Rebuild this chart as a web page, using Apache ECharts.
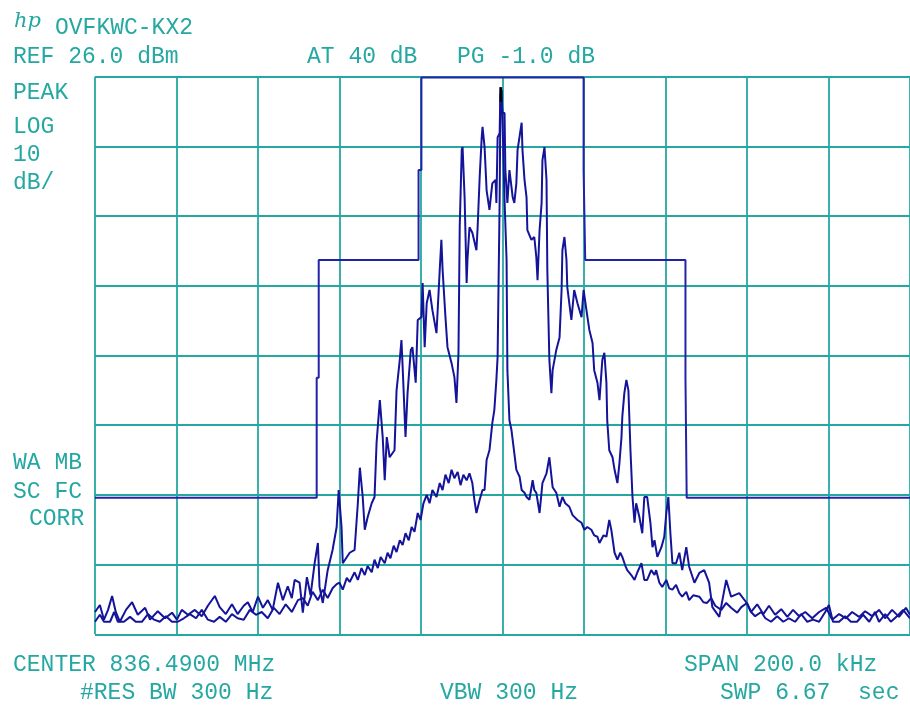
<!DOCTYPE html>
<html>
<head>
<meta charset="utf-8">
<script src="https://cdn.jsdelivr.net/npm/echarts@6/dist/echarts.min.js"></script>
<style>
html,body{margin:0;padding:0;background:#fff;}
#c{width:910px;height:709px;}
</style>
</head>
<body>
<div id="c"></div>
<script>
// Frequency offset from center (kHz) and level relative to REF (dB, 0 = 26.0 dBm, 10 dB/div)
var maskFreq  = [-100, -45.6, -45.6, -45.1, -45.1, -20.6, -20.6, -19.9, -19.9, 19.9, 19.9, 20.3, 20.3, 44.9, 44.9, 45.2, 45.2, 100];
var maskLevel = [-60.4, -60.4, -43.2, -43.2, -26.3, -26.3, -13.4, -13.4, -0.1, -0.1, -13.4, -13.4, -26.3, -26.3, -43.2, -43.2, -60.4, -60.4];

var traceA = [
[-100,-76.8],[-98.8,-75.8],[-97.8,-77.9],[-96.8,-76.5],[-95.8,-74.5],[-94.9,-76.8],[-93.9,-78.2],[-92.4,-76.5],
[-90.9,-75.4],[-89.5,-77.2],[-87.7,-76.2],[-86.5,-77.9],[-84.6,-76.7],[-82.8,-77.7],[-81.1,-76.9],[-79.9,-77.9],
[-78.7,-76.5],[-77.2,-77.2],[-75.5,-76.5],[-73.8,-77.4],[-72.3,-75.9],[-70.6,-74.5],[-69.4,-76.1],[-67.9,-77.1],
[-66.4,-75.7],[-65.0,-77.1],[-63.5,-75.9],[-62.5,-75.4],[-61.3,-76.8],[-60.0,-74.6],[-58.8,-76.2],[-57.6,-75.1],
[-56.4,-76.5],[-55.1,-72.6],[-53.9,-75.1],[-52.7,-73.1],[-51.7,-74.8],[-51.0,-72.2],[-49.8,-72.6],[-49.0,-76.9],
[-48.0,-71.8],[-47.1,-74.4],[-46.1,-69.8],[-45.3,-66.9],[-44.9,-73.2],[-44.1,-75.5],[-42.9,-70.8],[-41.7,-67.9],
[-40.7,-64.6],[-40.2,-59.3],[-39.5,-64.6],[-39.2,-69.8],[-37.5,-68.3],[-36.3,-67.9],[-35.5,-61.2],[-35.0,-56.1],
[-34.3,-60.3],[-33.8,-65.0],[-33.1,-63.2],[-32.1,-61.2],[-31.4,-60.3],[-30.9,-52.5],[-30.1,-46.4],[-29.4,-51.7],
[-28.9,-57.9],[-28.4,-51.7],[-27.7,-54.6],[-26.5,-53.6],[-26.0,-45.0],[-25.2,-40.6],[-24.8,-37.8],[-24.5,-41.7],
[-23.8,-51.7],[-23.3,-45.4],[-22.5,-39.2],[-22.1,-38.8],[-21.3,-43.9],[-20.8,-34.9],[-19.9,-34.5],[-19.6,-29.6],
[-19.1,-38.8],[-18.6,-32.5],[-17.9,-30.6],[-17.2,-33.5],[-16.2,-36.8],[-15.4,-27.7],[-15.0,-23.4],[-14.7,-27.7],
[-14.0,-34.5],[-13.5,-38.8],[-12.5,-41.1],[-11.8,-43.1],[-11.3,-46.8],[-10.8,-39.6],[-10.5,-21.6],[-10.0,-10.5],
[-9.8,-10.1],[-9.3,-17.3],[-8.8,-29.6],[-8.6,-26.3],[-8.1,-21.6],[-7.4,-22.4],[-6.4,-24.9],[-6.1,-21.6],
[-5.6,-14.4],[-5.1,-8.7],[-4.9,-7.2],[-4.4,-10.1],[-3.9,-16.3],[-3.2,-19.1],[-2.5,-15.3],[-1.7,-14.8],
[-1.5,-18.1],[-1.2,-8.7],[-0.7,-8.1],[-0.5,-1.5],[0,-5.2],[0.5,-5.2],[0.7,-13.4],[1.2,-18.1],
[1.7,-13.4],[2.2,-15.8],[2.5,-17.3],[2.9,-18.1],[3.4,-15.3],[3.7,-10.5],[4.7,-6.6],[4.9,-10.5],
[5.4,-14.8],[5.9,-17.3],[6.1,-22.0],[7.1,-23.4],[7.8,-23.0],[8.3,-25.9],[8.6,-29.2],[9.1,-22.0],
[9.6,-18.1],[9.8,-12.0],[10.3,-10.1],[10.8,-14.8],[11.0,-27.7],[11.5,-40.6],[12.0,-45.4],[12.3,-42.1],
[13.2,-39.2],[14.0,-37.4],[14.5,-30.6],[14.7,-24.9],[15.2,-23.0],[15.7,-26.3],[15.9,-30.2],[16.9,-34.9],
[17.6,-30.6],[18.4,-32.5],[19.4,-34.5],[19.9,-30.6],[20.6,-33.5],[21.3,-36.3],[22.1,-38.2],[22.5,-42.1],
[23.3,-43.9],[23.8,-46.4],[24.5,-40.6],[25.0,-39.6],[25.5,-43.9],[25.7,-49.3],[26.2,-53.6],[27.0,-54.6],
[27.5,-56.4],[28.2,-58.3],[28.7,-55.4],[29.2,-51.7],[29.4,-48.8],[29.9,-45.4],[30.4,-43.5],[30.9,-45.0],
[31.4,-53.6],[31.9,-60.3],[32.4,-64.0],[32.8,-61.2],[33.6,-63.2],[34.3,-65.5],[34.8,-60.3],[35.5,-60.3],
[36.3,-64.0],[36.8,-67.5],[37.3,-66.5],[38.0,-68.9],[39.0,-67.5],[39.7,-66.0],[40.2,-62.6],[40.7,-60.3],
[41.2,-65.5],[41.7,-69.8],[42.6,-69.8],[43.4,-68.3],[44.1,-70.8],[45.1,-67.5],[45.8,-70.3],[47.1,-72.6],
[48.3,-71.2],[49.5,-70.8],[50.7,-72.6],[51.5,-76.1],[53.2,-77.5],[54.9,-72.2],[56.1,-74.6],[58.1,-74.1],
[59.8,-75.4],[61.0,-76.8],[62.5,-75.7],[64.0,-77.1],[65.4,-75.9],[66.9,-77.2],[68.4,-76.4],[69.9,-77.5],
[71.3,-76.5],[72.8,-77.4],[74.3,-76.8],[76.0,-77.7],[77.7,-76.8],[79.4,-76.2],[80.9,-77.9],[82.6,-77.1],
[84.3,-77.7],[85.8,-76.8],[87.5,-77.5],[89.0,-76.7],[90.7,-77.4],[92.4,-76.5],[93.9,-77.7],[95.6,-76.5],
[97.3,-77.5],[99.0,-76.2],[100,-77.2]
];

var traceB = [
[-100,-78.2],[-98.8,-77.2],[-97.8,-78.2],[-96.3,-78.2],[-95.3,-76.8],[-94.4,-78.2],[-92.9,-78.2],[-91.4,-77.5],
[-90.0,-78.2],[-88.5,-78.2],[-87.0,-77.1],[-85.5,-77.9],[-84.1,-78.2],[-82.6,-77.4],[-81.1,-78.2],[-79.7,-78.2],
[-78.2,-77.7],[-76.7,-77.1],[-75.2,-77.7],[-73.8,-76.5],[-72.3,-77.9],[-70.8,-78.2],[-69.4,-77.5],[-67.9,-78.2],
[-66.4,-77.1],[-65.0,-77.7],[-63.5,-77.9],[-62.0,-76.5],[-60.5,-77.2],[-59.1,-76.8],[-57.6,-77.7],[-56.1,-76.2],
[-54.7,-77.1],[-53.2,-75.7],[-51.7,-76.8],[-50.2,-75.1],[-49.0,-74.8],[-47.8,-75.9],[-46.6,-73.9],[-45.3,-75.1],
[-44.1,-73.6],[-42.9,-74.8],[-41.7,-73.4],[-40.7,-72.8],[-40.0,-72.6],[-39.2,-73.6],[-38.2,-71.9],[-37.5,-72.5],
[-36.3,-71.1],[-35.5,-72.2],[-34.6,-70.5],[-33.8,-71.5],[-33.1,-70.2],[-32.1,-71.1],[-31.4,-69.3],[-30.6,-70.5],
[-29.9,-68.9],[-28.9,-69.8],[-28.2,-68.3],[-27.5,-69.1],[-26.7,-67.3],[-26.0,-68.2],[-25.2,-66.5],[-24.5,-67.2],
[-23.8,-65.5],[-23.0,-66.5],[-22.3,-64.6],[-21.6,-65.3],[-20.8,-62.6],[-20.1,-63.6],[-19.4,-61.2],[-18.6,-60.0],
[-17.9,-61.2],[-17.2,-59.3],[-16.2,-60.3],[-15.4,-58.3],[-14.7,-59.3],[-14.0,-57.1],[-13.2,-58.3],[-12.5,-56.4],
[-11.8,-57.6],[-11.0,-56.7],[-10.3,-58.6],[-9.6,-57.1],[-8.8,-57.9],[-8.1,-56.9],[-7.4,-58.3],[-6.9,-60.7],
[-6.4,-62.6],[-5.6,-60.7],[-4.9,-59.3],[-4.4,-59.3],[-3.9,-55.0],[-3.2,-53.6],[-2.5,-49.7],[-2.0,-47.8],
[-1.5,-43.5],[-1.2,-40.2],[-0.7,-17.7],[-0.5,-2.6],[-0.2,-1.9],[0,-6.2],[0.5,-17.7],[1.0,-26.3],
[1.2,-42.1],[1.7,-49.3],[2.2,-50.7],[2.9,-54.0],[3.4,-56.4],[4.2,-57.4],[4.7,-59.3],[5.4,-59.7],
[5.9,-60.3],[6.6,-60.7],[7.4,-57.9],[7.8,-59.3],[8.3,-59.7],[9.1,-62.6],[9.8,-58.3],[10.8,-56.9],
[11.5,-54.6],[12.3,-58.9],[13.2,-59.7],[14.0,-61.7],[14.7,-60.3],[15.4,-61.2],[16.4,-61.7],[17.2,-62.9],
[18.4,-63.6],[19.4,-64.0],[20.1,-65.0],[20.8,-64.6],[21.8,-65.0],[22.5,-65.8],[23.3,-66.0],[23.8,-66.9],
[24.8,-65.8],[25.5,-66.0],[26.2,-63.6],[26.7,-65.0],[27.5,-68.3],[28.2,-69.3],[28.9,-68.3],[29.4,-68.9],
[30.1,-70.1],[30.6,-70.8],[31.6,-71.5],[32.4,-72.2],[33.1,-71.1],[34.1,-69.8],[34.8,-72.2],[35.5,-72.2],
[36.5,-70.8],[37.3,-71.5],[37.7,-70.8],[38.5,-72.6],[39.2,-73.2],[40.2,-72.2],[40.9,-73.4],[41.7,-73.6],
[42.6,-72.9],[43.4,-74.1],[44.1,-74.6],[45.1,-73.9],[45.8,-75.1],[46.8,-74.4],[48.3,-74.6],[49.3,-75.4],
[50.2,-75.5],[51.2,-74.8],[52.2,-75.9],[53.7,-76.5],[54.9,-75.5],[56.1,-76.2],[57.6,-76.9],[58.6,-76.1],
[60.0,-75.5],[61.0,-76.8],[62.0,-77.4],[63.5,-76.8],[64.5,-77.7],[65.9,-78.2],[67.4,-77.4],[68.9,-78.2],
[70.3,-77.7],[71.8,-78.2],[73.3,-77.1],[74.8,-78.2],[76.2,-77.9],[77.7,-78.2],[79.2,-76.8],[80.1,-75.8],
[81.1,-78.2],[82.6,-78.2],[84.1,-77.4],[85.5,-78.2],[87.0,-78.2],[88.5,-77.2],[90.0,-78.2],[91.4,-76.8],
[92.4,-78.2],[93.9,-77.1],[95.3,-78.2],[96.8,-77.4],[98.3,-76.5],[100,-77.7]
];

var markerFreq = [-0.4, -0.4];
var markerLevel = [-1.5, -3.6];

var headerTexts = ['OVFKWC-KX2', 'REF 26.0 dBm', 'AT 40 dB', 'PG -1.0 dB'];
var sideTexts = ['PEAK', 'LOG', '10', 'dB/', 'WA MB', 'SC FC', 'CORR'];
var footerTexts = ['CENTER 836.4900 MHz', '#RES BW 300 Hz', 'VBW 300 Hz', 'SPAN 200.0 kHz', 'SWP 6.67  sec'];

var TEAL = '#25a8a2';
var BLUE = '#14149a';
var FONT = 'Liberation Mono';

function zip(a, b) { return a.map(function (v, i) { return [v, b[i]]; }); }

function txt(s, x, y) {
  return { type: 'text', left: x, top: y, style: { text: s, fill: TEAL, font: '23px "' + FONT + '"' }, z: 10 };
}

var chart = echarts.init(document.getElementById('c'), null, { renderer: 'canvas' });
chart.setOption({
  animation: false,
  backgroundColor: '#ffffff',
  grid: { left: 95, top: 76.7, width: 818, height: 557.6, containLabel: false, show: false },
  xAxis: {
    type: 'value', min: -100, max: 100, interval: 20,
    axisLine: { show: false }, axisTick: { show: false }, axisLabel: { show: false },
    splitLine: { show: true, lineStyle: { color: TEAL, width: 1.8 } }
  },
  yAxis: {
    type: 'value', min: -80, max: 0, interval: 10,
    axisLine: { show: false }, axisTick: { show: false }, axisLabel: { show: false },
    splitLine: { show: true, lineStyle: { color: TEAL, width: 1.8 } }
  },
  series: [
    { type: 'line', data: zip(maskFreq, maskLevel), showSymbol: false, lineStyle: { color: '#2222a8', width: 2 }, z: 3 },
    { type: 'line', data: traceB, showSymbol: false, lineStyle: { color: BLUE, width: 2 }, z: 4 },
    { type: 'line', data: traceA, showSymbol: false, lineStyle: { color: BLUE, width: 2 }, z: 5 },
    { type: 'line', data: zip(markerFreq, markerLevel), showSymbol: false, lineStyle: { color: '#000000', width: 2.5 }, z: 6 }
  ],
  graphic: [
    { type: 'text', left: 14, top: 11, style: { text: 'hp', fill: TEAL, font: 'italic 21px "DejaVu Serif"' }, z: 10 },
    txt(headerTexts[0], 55, 16),
    txt(headerTexts[1], 13, 45),
    txt(headerTexts[2], 307, 45),
    txt(headerTexts[3], 457, 45),
    txt(sideTexts[0], 13, 81),
    txt(sideTexts[1], 13, 115),
    txt(sideTexts[2], 13, 143),
    txt(sideTexts[3], 13, 171),
    txt(sideTexts[4], 13, 451),
    txt(sideTexts[5], 13, 480),
    txt(sideTexts[6], 29, 507),
    txt(footerTexts[0], 13, 653),
    txt(footerTexts[1], 80, 681),
    txt(footerTexts[2], 440, 681),
    txt(footerTexts[3], 684, 653),
    txt(footerTexts[4], 720, 681)
  ]
});
</script>
</body>
</html>
